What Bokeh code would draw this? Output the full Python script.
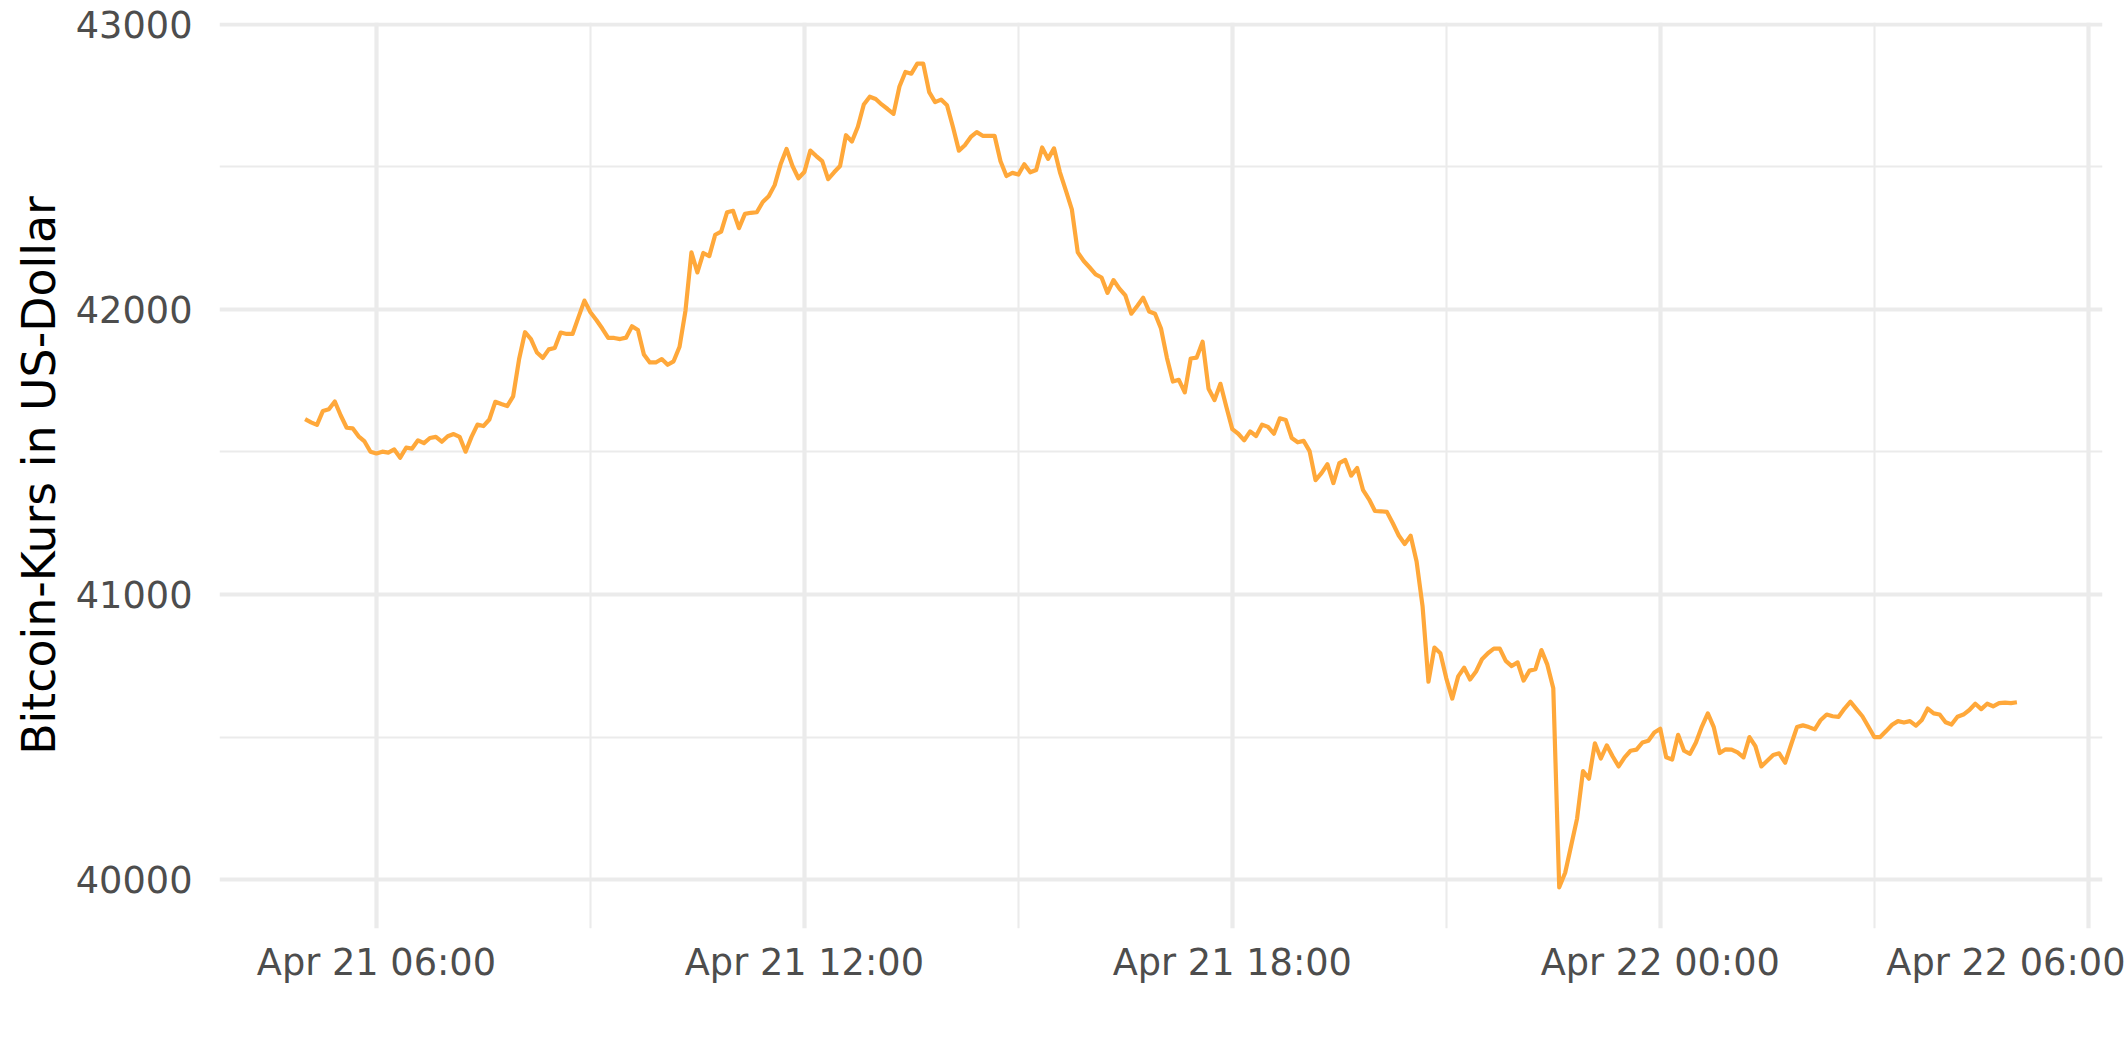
import numpy as np
import pandas as pd
from bokeh.plotting import figure
from bokeh.models import Range1d, FixedTicker, DatetimeTickFormatter, NumeralTickFormatter
from bokeh.embed import file_html
from bokeh.resources import INLINE

# ---- data (Bitcoin price in USD, 5-minute steps from 2022-04-21 05:00) ----
start_time = "2022-04-21 05:00"
step = "5min"
price_usd = [
    41615, 41604, 41595, 41644, 41650, 41677, 41628, 41585, 41583, 41555, 41537, 41501,
    41495, 41501, 41498, 41509, 41480, 41515, 41512, 41541, 41531, 41549, 41553, 41536,
    41555, 41563, 41553, 41501, 41553, 41596, 41591, 41614, 41676, 41668, 41661, 41695,
    41825, 41920, 41896, 41849, 41830, 41860, 41865, 41919, 41914, 41914, 41973, 42031,
    41990, 41963, 41933, 41900, 41900, 41896, 41901, 41941, 41928, 41842, 41814, 41814,
    41826, 41806, 41818, 41869, 41996, 42200, 42130, 42198, 42187, 42262, 42273, 42341,
    42346, 42285, 42335, 42339, 42341, 42377, 42397, 42436, 42509, 42563, 42503, 42460,
    42482, 42557, 42538, 42520, 42457, 42481, 42503, 42611, 42589, 42641, 42719, 42746,
    42738, 42719, 42703, 42686, 42782, 42833, 42827, 42862, 42862, 42762, 42727, 42736,
    42716, 42640, 42557, 42576, 42605, 42622, 42609, 42609, 42609, 42520, 42468, 42479,
    42473, 42509, 42481, 42489, 42568, 42528, 42565, 42481, 42417, 42351, 42200, 42170,
    42147, 42123, 42112, 42058, 42103, 42073, 42049, 41985, 42012, 42041, 41993, 41985,
    41933, 41830, 41747, 41753, 41709, 41828, 41831, 41887, 41722, 41682, 41739, 41658,
    41580, 41564, 41541, 41572, 41556, 41596, 41588, 41564, 41618, 41612, 41549, 41534,
    41539, 41503, 41401, 41426, 41457, 41391, 41461, 41472, 41417, 41444, 41366, 41334,
    41293, 41292, 41290, 41250, 41207, 41177, 41206, 41116, 40960, 40694, 40814, 40794,
    40706, 40635, 40713, 40743, 40702, 40730, 40773, 40794, 40810, 40810, 40767, 40749,
    40762, 40698, 40733, 40738, 40805, 40754, 40671, 39973, 40024, 40119, 40214, 40381,
    40354, 40478, 40425, 40471, 40432, 40397, 40429, 40452, 40456, 40481, 40487, 40516,
    40529, 40429, 40421, 40508, 40452, 40441, 40481, 40537, 40583, 40535, 40444, 40457,
    40456, 40446, 40429, 40500, 40468, 40397, 40417, 40437, 40443, 40410, 40473, 40535,
    40541, 40535, 40527, 40560, 40579, 40573, 40571, 40600, 40624, 40598, 40573, 40537,
    40500, 40500, 40521, 40543, 40556, 40551, 40556, 40540, 40560, 40600, 40583, 40579,
    40552, 40544, 40571, 40579, 40595, 40617, 40598, 40617, 40608, 40619, 40621, 40619,
    40622,
]
x_major_ticks = ["2022-04-21 06:00", "2022-04-21 12:00", "2022-04-21 18:00",
                 "2022-04-22 00:00", "2022-04-22 06:00"]
x_minor_ticks = ["2022-04-21 03:00", "2022-04-21 09:00", "2022-04-21 15:00",
                 "2022-04-21 21:00", "2022-04-22 03:00"]
y_major_ticks = [40000, 41000, 42000, 43000]
y_minor_ticks = [40500, 41500, 42500]
y_label = "Bitcoin-Kurs in US-Dollar"

# ---- build ----
times = pd.date_range(start_time, periods=len(price_usd), freq=step)


def to_ms(ts):
    return pd.Timestamp(ts).value / 1e6


t0, t1 = to_ms(times[0]), to_ms(times[-1])
xpad = 0.05 * (t1 - t0)
ymin, ymax = min(price_usd), max(price_usd)
ypad = 0.05 * (ymax - ymin)

p = figure(width=2125, height=1062, x_axis_type="datetime",
           output_backend="svg", toolbar_location=None,
           x_range=Range1d(t0 - xpad, t1 + xpad),
           y_range=Range1d(ymin - ypad, ymax + ypad),
           min_border_left=219, min_border_right=23,
           min_border_top=22, min_border_bottom=134)

p.background_fill_color = "white"
p.border_fill_color = "white"
p.outline_line_color = None

xt = FixedTicker(ticks=[to_ms(t) for t in x_major_ticks],
                 minor_ticks=[to_ms(t) for t in x_minor_ticks])
yt = FixedTicker(ticks=y_major_ticks, minor_ticks=y_minor_ticks)
p.xaxis.ticker = xt
p.xgrid.ticker = xt
p.yaxis.ticker = yt
p.ygrid.ticker = yt

fmt = "%b %d %H:%M"
p.xaxis.formatter = DatetimeTickFormatter(
    microseconds=fmt, milliseconds=fmt, seconds=fmt, minsec=fmt, minutes=fmt,
    hourmin=fmt, hours=fmt, days=fmt, months=fmt, years=fmt,
    strip_leading_zeros=False)
p.yaxis.formatter = NumeralTickFormatter(format="0")

for g in (p.xgrid, p.ygrid):
    g.grid_line_color = "#EBEBEB"
    g.grid_line_width = 4.2
    g.minor_grid_line_color = "#EBEBEB"
    g.minor_grid_line_width = 2.1

for ax in (p.xaxis, p.yaxis):
    ax.axis_line_color = None
    ax.major_tick_line_color = None
    ax.minor_tick_line_color = None
    ax.major_tick_out = 0
    ax.major_tick_in = 0
    ax.major_label_text_font = "DejaVu Sans"
    ax.major_label_text_font_size = "36.7px"
    ax.major_label_text_color = "#4D4D4D"

p.xaxis.major_label_standoff = 8
p.yaxis.major_label_standoff = 23
p.yaxis.axis_label = y_label
p.yaxis.axis_label_text_font = "DejaVu Sans"
p.yaxis.axis_label_text_font_size = "45.8px"
p.yaxis.axis_label_text_font_style = "normal"
p.yaxis.axis_label_text_color = "black"
p.yaxis.axis_label_standoff = 7

p.line(times, price_usd, line_color="#FFA83A", line_width=4.2, line_join="round")

open("out.html", "w").write(file_html(p, INLINE))
